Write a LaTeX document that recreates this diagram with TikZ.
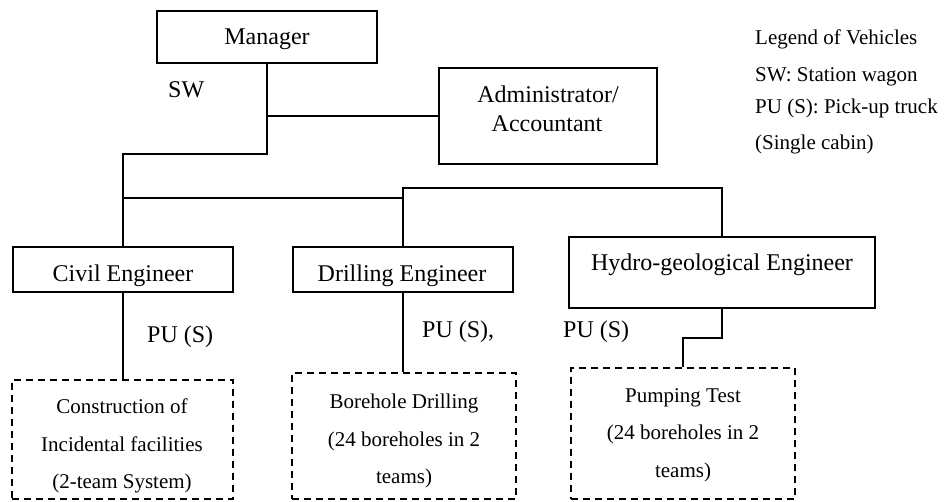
\documentclass[tikz,border=0pt]{standalone}
\usepackage{fontspec}
\setmainfont{Liberation Serif}
\begin{document}
\begin{tikzpicture}[x=1pt,y=-1pt,
  solidbox/.style={draw, line width=1.6pt, rectangle, inner sep=0pt},
  teambox/.style={draw, line width=1.3pt, dash pattern=on 7pt off 5pt, rectangle, inner sep=0pt},
  link/.style={line width=1.6pt},
  big/.style={font=\fontsize{24}{28}\selectfont, inner sep=0pt, anchor=base},
  small/.style={font=\fontsize{21}{25}\selectfont, inner sep=0pt, anchor=base},
  leftbig/.style={big, anchor=base west},
  leftsmall/.style={small, anchor=base west}]
\useasboundingbox (0,0) rectangle (948,501);
% boxes
\node[solidbox, minimum width=220pt, minimum height=52pt] (manager) at (267,37) {};
\node[solidbox, minimum width=218pt, minimum height=96pt] (admin) at (548,116) {};
\node[solidbox, minimum width=220pt, minimum height=45pt] (civil) at (123,269.5) {};
\node[solidbox, minimum width=220pt, minimum height=45pt] (drill) at (403,269.5) {};
\node[solidbox, minimum width=306pt, minimum height=71pt] (hydro) at (722,272.5) {};
\node[teambox, minimum width=221pt, minimum height=119pt] (cons) at (122.5,439.5) {};
\node[teambox, minimum width=224pt, minimum height=126pt] (bore) at (404,436) {};
\node[teambox, minimum width=224pt, minimum height=131pt] (pump) at (683,433.5) {};
% box texts
\node[big] (tmanager) at (267,44) {Manager};
\node[big] (tadmin1) at (548,102) {Administrator/};
\node[big] (tadmin2) at (547,131) {Accountant};
\node[big] (tcivil) at (123,281) {Civil Engineer};
\node[big] (tdrill) at (402,281) {Drilling Engineer};
\node[big] (thydro) at (722,270) {Hydro-geological Engineer};
\node[small] (tcons1) at (122,413) {Construction of};
\node[small] (tcons2) at (122,451) {Incidental facilities};
\node[small] (tcons3) at (122,488) {(2-team System)};
\node[small] (tbore1) at (404,408) {Borehole Drilling};
\node[small] (tbore2) at (404,446) {(24 boreholes in 2};
\node[small] (tbore3) at (404,483) {teams)};
\node[small] (tpump1) at (683,402) {Pumping Test};
\node[small] (tpump2) at (683,439) {(24 boreholes in 2};
\node[small] (tpump3) at (683,477) {teams)};
% vehicle labels
\node[leftbig] (sw) at (168,97) {SW};
\node[leftbig] (pucivil) at (147,342) {PU (S)};
\node[leftbig] (pudrill) at (422,337) {PU (S),};
\node[leftbig] (puhydro) at (563,337) {PU (S)};
% legend
\node[leftsmall] (leg1) at (755,44) {Legend of Vehicles};
\node[leftsmall] (leg2) at (755,81) {SW: Station wagon};
\node[leftsmall] (leg3) at (755,113) {PU (S): Pick-up truck};
\node[leftsmall] (leg4) at (755,149) {(Single cabin)};
% connectors
\coordinate (m1) at (267,154);
\coordinate (j1) at (123,198);
\coordinate (j2) at (403,188);
\draw[link] (manager.south) |- (admin.west);
\draw[link] (manager.south) -- (m1) -| (civil.north);
\draw[link] (j1) -| (drill.north);
\draw[link] (drill.north) -- (j2) -| (hydro.north);
\draw[link] (civil.south) -- (civil.south |- cons.north);
\draw[link] (drill.south) -- (drill.south |- bore.north);
\coordinate (h1) at (722,338);
\draw[link] (hydro.south) -- (h1) -| (pump.north);
\end{tikzpicture}
\end{document}
